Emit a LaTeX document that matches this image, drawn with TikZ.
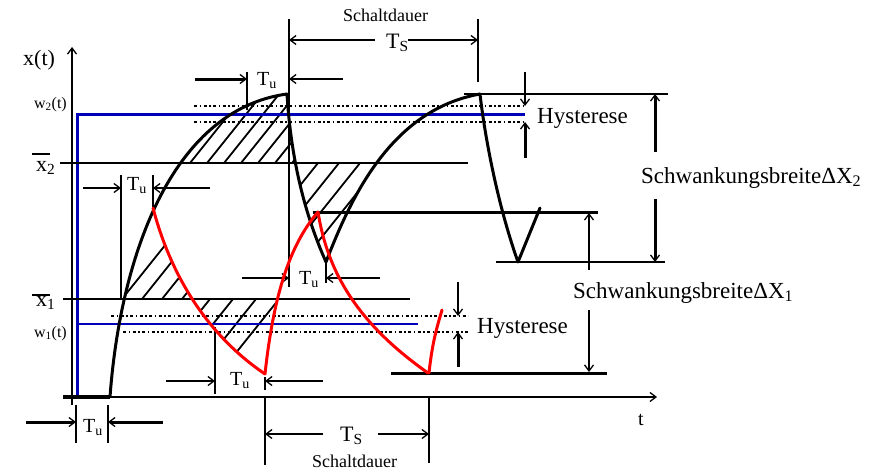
\documentclass[tikz,border=0pt]{standalone}
\usepackage{fontspec}
\setmainfont{Liberation Serif}
\usetikzlibrary{arrows.meta}
\definecolor{wblue}{RGB}{0,0,185}
\definecolor{cred}{RGB}{255,0,0}
\begin{document}
\begin{tikzpicture}[x=1pt,y=-1pt,
  >={Straight Barb[length=6pt,width=9pt,line width=1.3pt]},
  curve/.style={line width=3pt,line join=round,line cap=round},
  rcurve/.style={curve,draw=cred},
  lvl/.style={line width=2.5pt},
  thinlvl/.style={line width=2pt},
  dimline/.style={line width=2.5pt,->},
  tickline/.style={line width=2.5pt},
  hyst/.style={line width=2pt,dash pattern=on 3pt off 2.5pt on 1.5pt off 2.5pt},
  hatch/.style={line width=1.8pt},
  lab/.style={inner sep=0pt,anchor=base west},
  f16/.style={font=\fontsize{16}{18}\selectfont},
  f18/.style={font=\fontsize{18}{20}\selectfont},
  f20/.style={font=\fontsize{20}{22}\selectfont},
  f22/.style={font=\fontsize{22}{24}\selectfont},
  f23/.style={font=\fontsize{23}{25}\selectfont}]
\useasboundingbox (0,0) rectangle (883,471);

% ---------- hatching ----------
% A: above x2-bar, under first black peak
\begin{scope}
\clip (0,0) rectangle (883,163);
\clip (110,397) .. controls (120,260) and (170,110) .. (287,94)
  .. controls (291,160) and (305,215) .. (326,262) -- cycle;
\foreach \k in {0,...,7} \draw[hatch] ({173+17*\k-200},413) -- ++(400,-500);
\end{scope}
% B: below x2-bar, inside first black valley
\begin{scope}
\clip (0,163) rectangle (883,471);
\clip (287,94) .. controls (291,160) and (305,215) .. (326,262)
  .. controls (350,200) and (390,110) .. (480,94) -- cycle;
\foreach \k in {0,...,5} \draw[hatch] ({276+21*\k-200},413) -- ++(400,-500);
\end{scope}
% C: above x1-bar, between black rise and red fall
\begin{scope}
\clip (0,208) rectangle (883,299);
\clip (110,397) .. controls (120,260) and (170,110) .. (287,94) -- (883,94) -- (883,471) -- (110,471) -- cycle;
\clip (153,208) .. controls (168,265) and (200,330) .. (265,374) -- (0,374) -- (0,208) -- cycle;
\foreach \k in {0,...,4} \draw[hatch] ({122+20*\k-200},549) -- ++(400,-500);
\end{scope}
% D: below x1-bar, inside red valley
\begin{scope}
\clip (0,299) rectangle (883,471);
\clip (153,208) .. controls (168,265) and (200,330) .. (265,374)
  .. controls (272,310) and (285,250) .. (318,212) -- cycle;
\foreach \k in {0,...,4} \draw[hatch] ({187+23*\k-200},549) -- ++(400,-500);
\end{scope}

% ---------- blue setpoints ----------
\draw[wblue,line width=3pt] (77,397) -- (77,114) -- (525,114);
\draw[wblue,line width=2pt] (77,324) -- (418,324);

% ---------- axes ----------
\coordinate (o) at (72,405);
\coordinate (ytop) at (72,47);
\coordinate (xl) at (63,397);
\coordinate (xr) at (657,397);
\draw[line width=2pt,->] (o) -- (ytop);
\draw[line width=2pt,->] (xl) -- (xr);

% ---------- level lines ----------
\draw[lvl] (60,163) -- (468,163);
\draw[lvl] (63,299) -- (410,299);
\draw[lvl] (464,94) -- (668,94);
\draw[line width=3pt] (313,212) -- (598,212);
\draw[lvl] (496,262) -- (665,262);
\draw[line width=3pt] (391,373) -- (607,373);
\draw[hyst] (194,106) -- (525,106);
\draw[hyst] (194,122) -- (525,122);
\draw[hyst] (111,316) -- (468,316);
\draw[hyst] (123,332) -- (468,332);

% ---------- vertical markers ----------
\draw[tickline] (289,19) -- (289,287);
\draw[tickline] (478,19) -- (478,82);
\draw[tickline] (247,72) -- (247,110);
\draw[tickline] (121,175) -- (121,299);
\draw[tickline] (153,175) -- (153,208);
\draw[tickline] (326,262) -- (326,283);
\draw[tickline] (215,327) -- (215,394);
\draw[tickline] (265,377) -- (265,390);
\draw[tickline] (265,398) -- (265,465);
\draw[tickline] (429,397) -- (429,463);
\draw[thinlvl] (76,405) -- (76,443);
\draw[thinlvl] (108,405) -- (108,443);

% ---------- dimension arrows ----------
\draw[dimline] (375,40) -- (289,40);
\draw[dimline] (408,40) -- (478,40);
\draw[line width=3pt,->] (195,79) -- (247,79);
\draw[thinlvl,->] (343,79) -- (289,79);
\draw[thinlvl,->] (83,188) -- (121,188);
\draw[thinlvl,->] (210,188) -- (153,188);
\draw[thinlvl,->] (242,278) -- (289,278);
\draw[thinlvl,->] (380,278) -- (326,278);
\draw[thinlvl,->] (166,381) -- (215,381);
\draw[thinlvl,->] (323,381) -- (265,381);
\draw[thinlvl,->] (323,434) -- (265,434);
\draw[thinlvl,->] (378,434) -- (429,434);
\draw[line width=3pt,->] (26,422) -- (76,422);
\draw[line width=3pt,->] (163,422) -- (108,422);
\draw[thinlvl,->] (525,72) -- (525,106);
\draw[line width=3pt,->] (525,158) -- (525,122);
\draw[thinlvl,->] (458,282) -- (458,316);
\draw[line width=3pt,->] (458,367) -- (458,332);
\draw[line width=3pt,->] (655,152) -- (655,94);
\draw[line width=3pt,->] (655,199) -- (655,262);
\draw[thinlvl,->] (589,270) -- (589,213);
\draw[thinlvl,->] (589,310) -- (589,372);

% ---------- black response ----------
\draw[line width=3.5pt] (63,397) -- (110,397);
\draw[curve] (110,397) .. controls (120,260) and (170,110) .. (287,94);
\draw[curve] (287,94) .. controls (291,160) and (305,215) .. (326,262);
\draw[curve] (326,262) .. controls (350,200) and (390,110) .. (480,94);
\draw[curve] (480,94) .. controls (484,130) and (496,200) .. (518,262) -- (540,208);

% ---------- red response ----------
\draw[rcurve] (153,208) .. controls (168,265) and (200,330) .. (265,374);
\draw[rcurve] (265,374) .. controls (272,310) and (285,250) .. (318,212);
\draw[rcurve] (318,212) .. controls (328,275) and (360,325) .. (428,373);
\draw[rcurve] (429,373) .. controls (432,345) and (436,330) .. (442,310);

% ---------- labels ----------
\node[lab,f22] (lxt) at (23,65) {x(t)};
\node[lab,f16,anchor=base east] (lw2) at (67,108) {w\textsubscript{2}(t)};
\node[lab,f16,anchor=base east] (lw1) at (67,337) {w\textsubscript{1}(t)};
\node[lab,f22] (lx2) at (36,171) {x\textsubscript{2}};
\draw[line width=1.5pt] (32,154) -- (50,154);
\node[lab,f22] (lx1) at (36,306) {x\textsubscript{1}};
\draw[line width=1.5pt] (32,295) -- (50,295);
\node[lab,f18] (sd1) at (343,21) {Schaltdauer};
\node[lab,f22] (ts1) at (386,48) {T\textsubscript{S}};
\node[lab,f20] (tu1) at (257,85) {T\textsubscript{u}};
\node[lab,f20] (tu2) at (127,190) {T\textsubscript{u}};
\node[lab,f20] (tu3) at (299,284) {T\textsubscript{u}};
\node[lab,f20] (tu4) at (230,385) {T\textsubscript{u}};
\node[lab,f20] (tu5) at (83,432) {T\textsubscript{u}};
\node[lab,f22] (ts2) at (340,441) {T\textsubscript{S}};
\node[lab,f18] (sd2) at (312,467) {Schaltdauer};
\node[lab,f20] (lt) at (638,425) {t};
\node[lab,f23] (hy1) at (537,123) {Hysterese};
\node[lab,f23] (hy2) at (477,333) {Hysterese};
\node[lab,f23] (sb2) at (641,183) {SchwankungsbreiteΔX\textsubscript{2}};
\node[lab,f23] (sb1) at (573,298) {SchwankungsbreiteΔX\textsubscript{1}};
\end{tikzpicture}
\end{document}
